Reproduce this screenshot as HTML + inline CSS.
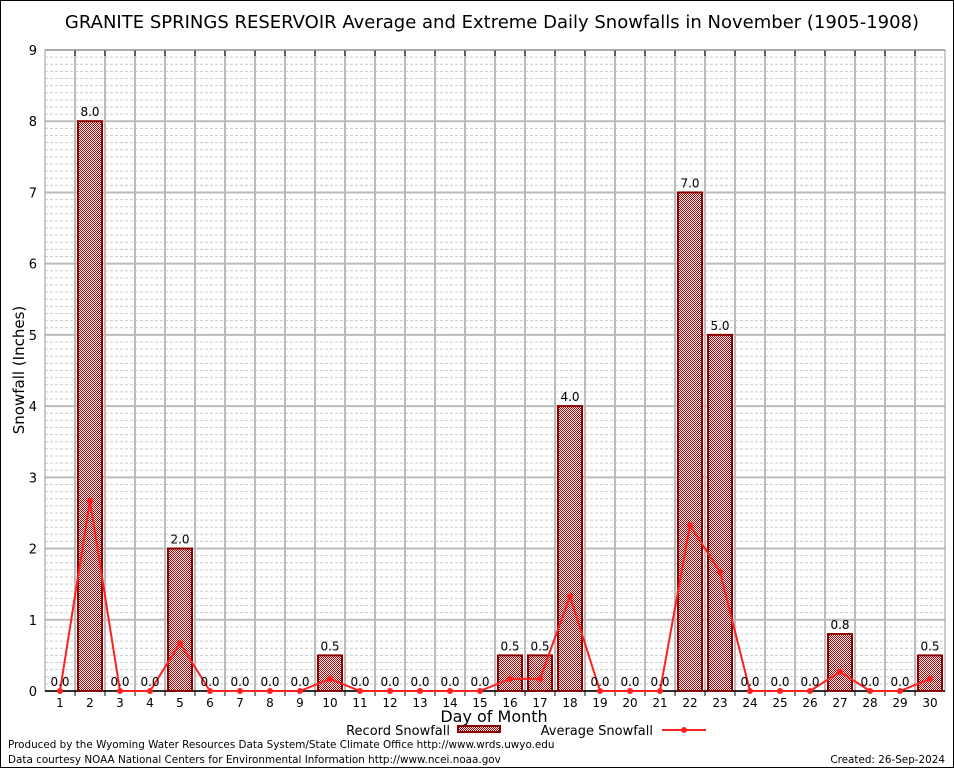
<!DOCTYPE html>
<html><head><meta charset="utf-8"><style>
body{margin:0;background:#fff}
svg{display:block}
text{font-family:"DejaVu Sans","Liberation Sans",sans-serif}
</style></head><body>
<svg id="c" width="954" height="768" xmlns="http://www.w3.org/2000/svg">
<defs>
<pattern id="chk" width="2" height="2" patternUnits="userSpaceOnUse">
<rect width="2" height="2" fill="#fff"/><rect width="1" height="1" fill="#c00000"/><rect x="1" y="1" width="1" height="1" fill="#c00000"/>
</pattern>
</defs>
<rect x="0.5" y="0.5" width="953" height="767" fill="#fff" stroke="#000"/>
<text x="492" y="28" font-size="18" text-anchor="middle">GRANITE SPRINGS RESERVOIR Average and Extreme Daily Snowfalls in November (1905-1908)</text>
<g id="grid"></g>
<g id="bars"></g>
<g id="line"></g>
<g id="labels"></g>
<text x="24" y="370" font-size="15" text-anchor="middle" transform="rotate(-90 24 370)">Snowfall (Inches)</text>
<text x="494" y="722" font-size="16" text-anchor="middle">Day of Month</text>
<g>
<text x="450" y="735" font-size="13" text-anchor="end">Record Snowfall</text>
<rect x="458" y="726" width="42" height="6" fill="url(#chk)" stroke="#8b0000" stroke-width="2"/>
<text x="653" y="735" font-size="13" text-anchor="end">Average Snowfall</text>
<line x1="662" y1="730" x2="706" y2="730" stroke="#ff2020" stroke-width="2"/>
<circle cx="684" cy="730" r="3" fill="#ff2020"/>
</g>
<text x="8" y="748" font-size="10.4">Produced by the Wyoming Water Resources Data System/State Climate Office http://www.wrds.uwyo.edu</text>
<text x="8" y="763" font-size="10.4">Data courtesy NOAA National Centers for Environmental Information http://www.ncei.noaa.gov</text>
<text x="945" y="763" font-size="10.4" text-anchor="end">Created:  26-Sep-2024</text>
</svg>
<script>
const days=[1,2,3,4,5,6,7,8,9,10,11,12,13,14,15,16,17,18,19,20,21,22,23,24,25,26,27,28,29,30];
const recordVals=[0,8,0,0,2,0,0,0,0,0.5,0,0,0,0,0,0.5,0.5,4,0,0,0,7,5,0,0,0,0.8,0,0,0.5];
const avgVals=[0,2.67,0,0,0.67,0,0,0,0,0.17,0,0,0,0,0,0.17,0.17,1.33,0,0,0,2.33,1.67,0,0,0,0.27,0,0,0.17];
const yTicks=[0,1,2,3,4,5,6,7,8,9];
const L=45,R=945,T=50,B=691,yMax=9;
const slot=(R-L)/days.length;
const xs=d=>L+slot*(d-0.5);
const ys=v=>B-(B-T)*v/yMax;
const NS='http://www.w3.org/2000/svg';
function mk(tag,attrs,parent,txt){const e=document.createElementNS(NS,tag);for(const k in attrs)e.setAttribute(k,attrs[k]);if(txt!==undefined)e.textContent=txt;parent.appendChild(e);return e;}
const grid=document.getElementById('grid');
for(let i=1;i<yMax*10;i++){if(i%10===0)continue;const y=ys(i/10);
const l=mk('line',{x1:L,x2:R,y1:y,y2:y,stroke:'#ccc','stroke-dasharray':'3,2','stroke-width':1},grid);

}
yTicks.forEach(t=>{const y=ys(t);
const l=mk('line',{x1:L,x2:R,y1:y,y2:y,stroke:'#bbb','stroke-width':2},grid);


const tx=mk('text',{x:L-8,y:y+5,'font-size':13,'text-anchor':'end','font-family':'Liberation Serif, serif'},grid,String(t));

});
for(let i=1;i<days.length;i++){const x=L+slot*i;
const l=mk('line',{x1:x,x2:x,y1:T,y2:B,stroke:'#bbb','stroke-width':2},grid);


const tk=mk('line',{x1:x,x2:x,y1:T,y2:T+6,stroke:'#000'},grid);


const tb=mk('line',{x1:x,x2:x,y1:B,y2:B+5,stroke:'#000'},grid);

}
const fr=mk('rect',{x:L,y:T,width:R-L,height:B-T,fill:'none',stroke:'#999'},grid);


const ax=mk('line',{x1:L,x2:R,y1:B,y2:B,stroke:'#000','stroke-width':1.5},grid);


days.forEach(d=>{const t=mk('text',{x:xs(d),y:B+16,'font-size':12,'text-anchor':'middle','font-family':'Liberation Serif, serif'},grid,String(d));

});
const bars=document.getElementById('bars'),labels=document.getElementById('labels');
days.forEach((d,i)=>{const v=recordVals[i];
if(v>0){const b=mk('rect',{x:xs(d)-12,y:ys(v),width:24,height:B-ys(v),fill:'url(#chk)',stroke:'#8b0000','stroke-width':2},bars);

}
const t=mk('text',{x:xs(d),y:ys(v)-5,'font-size':12,'text-anchor':'middle'},labels,v.toFixed(1));

});
const lg=document.getElementById('line');
const pl=mk('polyline',{points:days.map((d,i)=>xs(d)+','+ys(avgVals[i])).join(' '),fill:'none',stroke:'#ff2020','stroke-width':2},lg);


days.forEach((d,i)=>{const c=mk('circle',{cx:xs(d),cy:ys(avgVals[i]),r:3,fill:'#ff2020'},lg);

});
</script>
</body></html>
